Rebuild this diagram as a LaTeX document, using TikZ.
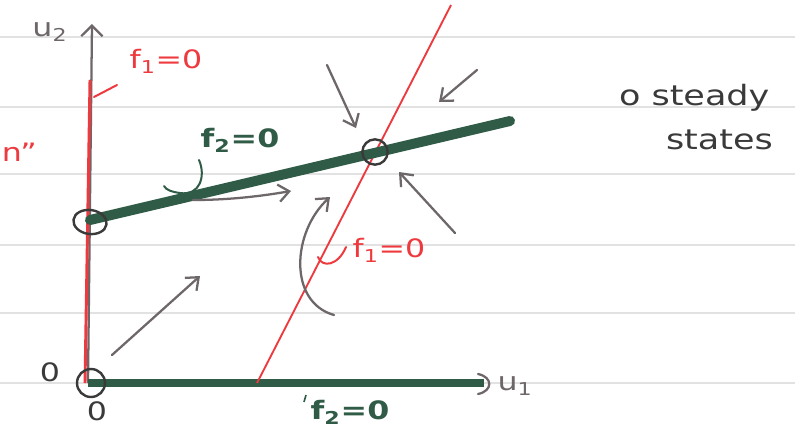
\documentclass[tikz,border=0pt]{standalone}
\usepackage{fontspec}
\setmainfont{DejaVu Sans}
\usetikzlibrary{arrows.meta,shapes.geometric}
\definecolor{nullgreen}{HTML}{2F5B47}
\definecolor{nullred}{HTML}{EE3A3F}
\definecolor{flowgray}{HTML}{6E6769}
\definecolor{inkdark}{HTML}{3A3A3A}
\definecolor{ruleline}{HTML}{E2E2E2}
\tikzset{
  ruled/.style={ruleline, line width=0.8pt},
  greenline/.style={nullgreen, line width=7.5pt, line cap=round},
  greenaxis/.style={nullgreen, line width=6pt},
  redline/.style={nullred, line width=1.4pt},
  flow/.style={flowgray, line width=1.7pt, line cap=round,
    -{Straight Barb[length=8pt,width=13pt,line width=1.7pt]}},
  axisline/.style={flowgray, line width=1.7pt,
    -{Straight Barb[length=8pt,width=16pt,line width=1.7pt]}},
  ssc/.style={circle, draw=inkdark, line width=1.8pt, inner sep=0pt},
  sse/.style={ellipse, draw=inkdark, line width=1.8pt, inner sep=0pt},
  hand/.style={xscale=1.25, transform shape, inner sep=1pt},
  redlbl/.style={hand, text=nullred, font=\fontsize{19}{21}\selectfont},
  greenlbl/.style={hand, text=nullgreen, font=\bfseries\fontsize{19}{21}\selectfont},
  graylbl/.style={hand, text=flowgray, font=\fontsize{19}{21}\selectfont},
  inklbl/.style={hand, text=inkdark, font=\fontsize{19}{22}\selectfont},
  tick/.style={line width=1.5pt, line cap=round}
}
\begin{document}
\begin{tikzpicture}[x=0.75pt,y=-0.75pt]
\useasboundingbox (0,0) rectangle (795,447);
\fill[white] (0,0) rectangle (795,447);
% ruled notebook lines
\foreach \yy in {37,107,174,245,313,383} \draw[ruled] (0,\yy) -- (795,\yy);

% coordinates
\coordinate (O) at (88,383);
\coordinate (u2top) at (92,24);
\coordinate (rvbot) at (85,383);
\coordinate (rvtop) at (90,80);
\coordinate (u1end) at (484,383);
\coordinate (gA) at (90,220);
\coordinate (gB) at (510,121);
\coordinate (rA) at (257,383);
\coordinate (rB) at (451,5);

% u2 axis
\draw[axisline] (O) -- (u2top);
% red nullcline on the u2 axis
\draw[nullred, line width=2.2pt] (rvbot) -- (rvtop);
% u1 axis (green nullcline)
\draw[greenaxis] (O) -- (u1end);
\coordinate (hd1) at (478,374);
\coordinate (hd2) at (478,394);
\draw[flowgray, line width=1.7pt, line cap=round] (hd1) .. controls (493,377) and (493,391) .. (hd2);
% slanted red nullcline
\draw[redline] (rA) -- (rB);
% slanted green nullcline
\draw[greenline] (gA) -- (gB);

% steady states
\node[ssc, minimum size=19pt] (s1) at (375,152) {};
\node[sse, minimum width=25pt, minimum height=18pt, rotate=-8] (s2) at (90,222) {};
\node[ssc, minimum size=21pt] (s0) at (91,383) {};

% axis labels
\node[graylbl] (lu2) at (50,32) {u\textsubscript{2}};
\node[graylbl] (lu1) at (515,386) {u\textsubscript{1}};
\node[inklbl] (lz1) at (50,372) {0};
\node[inklbl] (lz2) at (97,411) {0};

% f1=0 label at top
\node[redlbl] (lf1a) at (166,61) {f\textsubscript{1}=0};
\coordinate (t1a) at (94,97);
\coordinate (t1b) at (117,85);
\draw[nullred, tick] (t1a) -- (t1b);
\node[redlbl, anchor=west] (lq) at (0,152) {n''};

% f2=0 label on slanted line
\node[greenlbl] (lf2a) at (240,140) {f\textsubscript{2}=0};
\coordinate (j1) at (199,160);
\coordinate (j2) at (164,186);
\draw[nullgreen, tick] (j1) .. controls (206,176) and (200,196) .. (180,193) .. controls (172,192) and (166,190) .. (j2);

% f1=0 label lower
\node[redlbl] (lf1b) at (389,250) {f\textsubscript{1}=0};
\coordinate (k1) at (318,257);
\coordinate (k2) at (346,247);
\draw[nullred, tick] (k1) .. controls (322,268) and (338,266) .. (k2);

% f2=0 label bottom
\node[greenlbl] (lf2b) at (350,412) {f\textsubscript{2}=0};
\coordinate (m1) at (306,395);
\coordinate (m2) at (304,402);
\draw[nullgreen, line width=1.2pt] (m1) -- (m2);

% legend
\node[inklbl, anchor=west, font=\fontsize{21}{24}\selectfont] (leg1) at (617,98) {o steady};
\node[inklbl, anchor=west, font=\fontsize{21}{24}\selectfont] (leg2) at (664,140) {states};

% flow arrows
\coordinate (a1s) at (112,355); \coordinate (a1e) at (200,276);
\draw[flow] (a1s) -- (a1e);
\coordinate (a2s) at (193,200); \coordinate (a2e) at (291,191);
\draw[flow] (a2s) .. controls (230,200) and (262,196) .. (a2e);
\coordinate (a3s) at (334,315); \coordinate (a3e) at (330,197);
\draw[flow] (a3s) .. controls (288,302) and (292,232) .. (a3e);
\coordinate (a4s) at (327,65); \coordinate (a4e) at (356,128);
\draw[flow] (a4s) -- (a4e);
\coordinate (a5s) at (477,70); \coordinate (a5e) at (439,102);
\draw[flow] (a5s) -- (a5e);
\coordinate (a6s) at (455,233); \coordinate (a6e) at (399,172);
\draw[flow] (a6s) -- (a6e);
\end{tikzpicture}
\end{document}
